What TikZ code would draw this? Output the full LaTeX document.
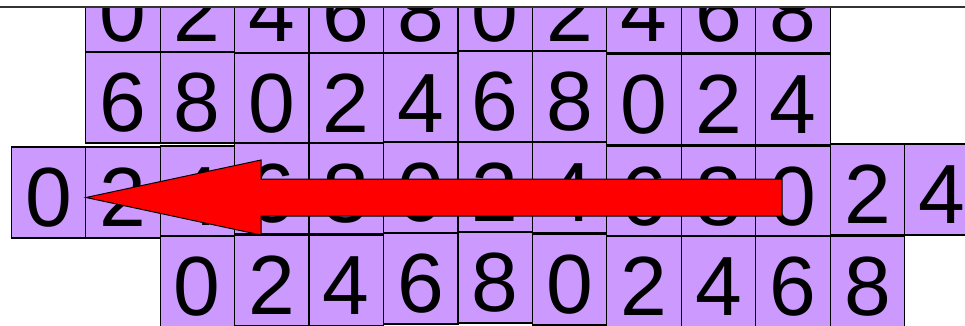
\documentclass[tikz,border=0pt]{standalone}
\usepackage{fontspec}
\setmainfont{Liberation Sans}
\usepackage{tikz}
\usetikzlibrary{calc}
\newlength{\w}
\setlength{\w}{74.45pt}
\definecolor{lilac}{HTML}{CC99FF}
\tikzset{cell/.style={draw=black, fill=lilac, line width=1.2pt, rectangle,
    minimum width=\w, minimum height=91pt, inner sep=0pt,
    text height=68pt, text depth=0pt, font=\fontsize{84}{84}\selectfont}}
% 1: name, 2: column, 3: top edge, 4: digit
\newcommand{\Cell}[4]{%
\node[cell] (#1) at ({11.2+(#2+0.5)*74.45}, {#3+45.5}) {#4};
}

\begin{document}
\begin{tikzpicture}[x=1pt, y=-1pt]
    \useasboundingbox (0,0) rectangle (965,326);

    \begin{scope}
        \clip (0,7) rectangle (965,326);
        % row 1, cut by the rule
        \foreach \xi/\dg in {1/0,2/2,3/4,4/6,5/8,6/0,7/2,8/4,9/6,10/8}{
            \Cell{a\xi}{\xi}{-38}{\dg}
        }
        % row 2
        \foreach \xi/\dg/\tp in {1/6/52,2/8/52,3/0/53,4/2/53,5/4/53,6/6/51,7/8/51,8/0/54,9/2/54,10/4/54}{
            \Cell{b\xi}{\xi}{\tp}{\dg}
        }
        % row 3
        \foreach \xi/\dg/\tp in {0/0/147,1/2/147,2/4/146,3/6/143,4/8/143,5/0/142,6/2/142,7/4/142,8/6/146,9/8/146,10/0/146,11/2/144,12/4/144}{
            \Cell{c\xi}{\xi}{\tp}{\dg}
        }
        % row 4
        \foreach \xi/\dg/\tp in {2/0/236,3/2/235,4/4/235,5/6/233,6/8/232,7/0/234,8/2/236,9/4/236,10/6/236,11/8/236}{
            \Cell{d\xi}{\xi}{\tp}{\dg}
        }
    \end{scope}

    % the rule on top
    \coordinate (ruleL) at (0,7);
    \coordinate (ruleR) at (965,7);
    \draw [line width=1.5pt, black!80] (ruleL) -- (ruleR);

    % big arrow to the left
    \draw [fill=red, line width=1pt] (86,197.5) -- (261,160) -- (261,179) -- (782,179)
        -- (782,216) -- (261,216) -- (261,235) -- cycle;

\end{tikzpicture}
\end{document}
